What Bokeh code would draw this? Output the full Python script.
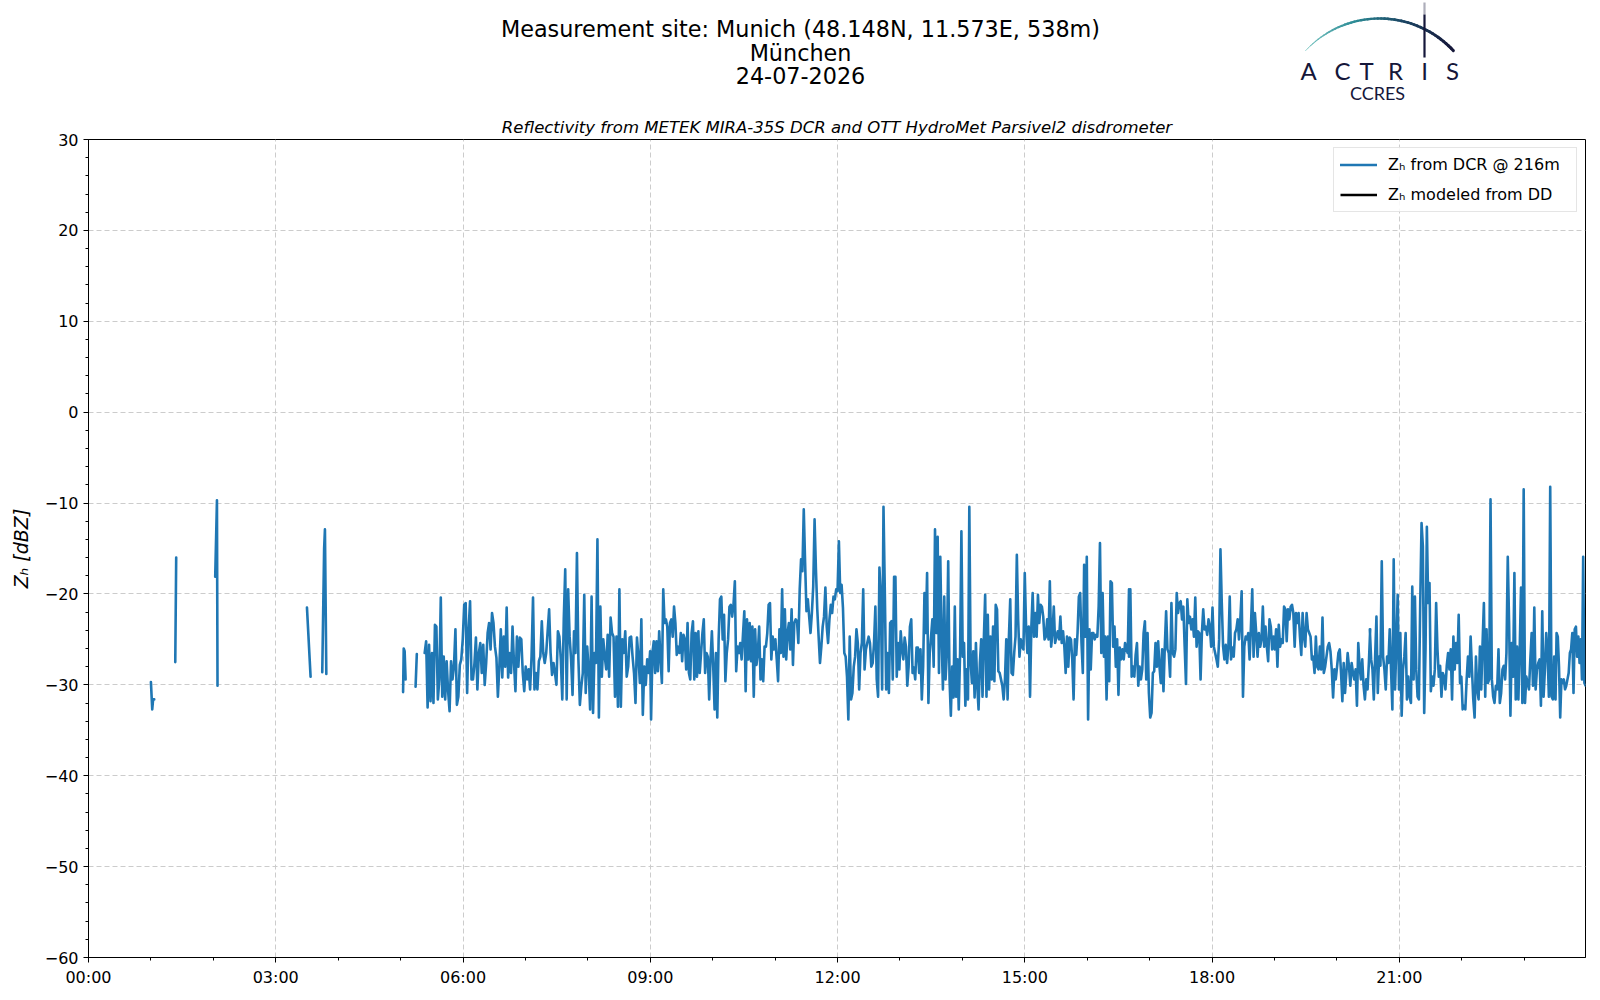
import numpy as np
import pandas as pd
from bokeh.plotting import figure
from bokeh.models import (Range1d, FixedTicker, DatetimeTickFormatter, CustomJSTickFormatter,
                          Legend, LegendItem, Label)
from bokeh.layouts import column
from bokeh.embed import file_html
from bokeh.resources import INLINE

# ---------------- data ----------------
DAY = "2026-07-24"
TITLE_LINES = ["Measurement site: Munich (48.148N, 11.573E, 538m)", "München", "24-07-2026"]
SUBTITLE = "Reflectivity from METEK MIRA-35S DCR and OTT HydroMet Parsivel2 disdrometer"
Y_LABEL = "Zₕ [dBZ]"
DCR_LABEL = "Zₕ from DCR @ 216m"
DD_LABEL = "Zₕ modeled from DD"
y_ticks = [-60, -50, -40, -30, -20, -10, 0, 10, 20, 30]
x_tick_hours = [0, 3, 6, 9, 12, 15, 18, 21]

# isolated echoes before the continuous record (hours of day, dBZ)
early_hours = [
    [1.000, 1.021, 1.035, 1.053],
    [1.390, 1.405],
    [2.030, 2.058, 2.067],
    [3.500, 3.558],
    [3.745, 3.775, 3.788, 3.810],
    [5.040, 5.050, 5.065, 5.080],
    [5.240, 5.260],
]
early_dbz = [
    [-29.7, -32.7, -31.6, -31.6],
    [-27.5, -16.0],
    [-18.1, -9.7, -30.1],
    [-21.5, -29.1],
    [-28.6, -15.0, -12.9, -28.8],
    [-30.8, -26.0, -26.3, -29.4],
    [-30.2, -26.6],
]

# continuous record, regularly sampled blocks: (start hour, end hour)
block_span = [(5.386, 8.998), (9.013, 12.823), (12.843, 16.670),
              (16.670, 20.534), (20.528, 23.503), (23.520, 23.985)]

dcr_block1 = [-26.5, -25.2, -32.5, -25.6, -31.8, -26.5, -32.0, -23.4, -23.6, -31.6, -29.4, -20.4, -31.3, -26.9,
              -31.6, -27.4, -30.7, -32.9, -27.4, -29.4, -28.0, -23.9, -32.2, -31.3, -27.8, -27.2, -25.0, -21.2,
              -21.0, -30.9, -23.9, -20.8, -29.4, -29.4, -27.6, -24.8, -30.5, -26.5, -25.4, -28.7, -25.6, -30.0,
              -27.6, -24.3, -23.2, -26.1, -22.1, -23.2, -25.8, -27.0, -31.3, -28.0, -23.9, -29.2, -24.7, -28.0,
              -21.5, -29.2, -26.5, -28.7, -23.6, -27.6, -30.7, -24.7, -28.0, -24.8, -25.0, -28.7, -30.7, -28.0,
              -29.4, -28.3, -30.5, -26.9, -20.4, -30.5, -28.7, -30.5, -27.4, -26.9, -23.0, -26.5, -27.6, -26.5,
              -24.1, -21.7, -26.5, -28.9, -27.6, -28.7, -30.0, -24.1, -24.7, -27.2, -31.6, -22.8, -17.3, -31.6,
              -19.5, -24.7, -27.2, -31.1, -24.1, -26.5, -15.5, -27.2, -32.2, -30.2, -28.7, -20.1, -30.9, -25.8,
              -28.3, -32.7, -20.3, -33.1, -26.5, -27.6, -14.0, -33.6, -21.4, -29.1, -25.0, -26.9, -28.3, -24.5,
              -29.1, -22.6, -24.3, -24.7, -31.3, -24.7, -32.4, -19.5, -32.4, -25.0, -26.5, -24.1, -29.1, -28.0,
              -24.8, -24.7, -26.9, -28.7, -32.0, -24.8, -26.9, -29.8, -22.8, -33.3, -28.0, -30.0, -27.2, -28.7,
              -26.3]
dcr_block2 = [-33.8, -26.5, -25.2, -28.7, -25.2, -28.5, -24.1, -27.2, -29.8, -19.5, -23.2, -22.8, -23.6, -28.5,
              -23.2, -22.8, -24.7, -21.4, -23.2, -26.7, -25.8, -26.5, -24.3, -27.4, -24.5, -25.0, -28.3, -23.2,
              -28.7, -29.4, -24.3, -23.0, -29.4, -24.3, -29.1, -24.1, -28.7, -26.5, -24.3, -22.8, -28.7, -26.5,
              -26.9, -31.6, -27.2, -24.1, -28.0, -32.7, -26.5, -33.6, -25.0, -20.6, -20.3, -25.0, -22.3, -29.6,
              -26.5, -25.0, -21.4, -21.2, -22.5, -21.2, -18.6, -28.5, -25.8, -26.5, -25.4, -27.2, -24.5, -21.9,
              -30.7, -22.8, -27.2, -23.2, -27.4, -23.6, -31.3, -23.9, -27.8, -26.5, -23.6, -29.4, -27.2, -29.6,
              -25.8, -25.8, -24.3, -21.2, -21.0, -27.2, -24.7, -26.1, -25.0, -27.2, -29.6, -23.9, -26.5, -19.5,
              -26.9, -21.7, -27.2, -24.3, -23.2, -26.1, -21.7, -27.8, -23.2, -22.8, -23.0, -25.4, -19.5, -16.2,
              -17.5, -10.7, -16.6, -21.9, -20.6, -22.5, -24.3, -22.1, -19.2, -11.8, -17.3, -21.7, -24.7, -27.6,
              -25.8, -23.6, -22.5, -19.3, -23.6, -25.4, -22.8, -21.2, -22.1, -20.3, -20.6, -19.5, -19.7, -14.2,
              -19.9, -19.0, -21.5, -26.5, -26.9, -29.1, -33.8, -24.7, -31.6, -30.9, -28.0, -26.9, -23.9, -25.4,
              -30.5, -26.5, -25.4, -19.5, -28.3, -26.1, -25.4, -24.7, -25.4, -28.0, -27.6, -25.4, -21.4, -29.4,
              -31.3, -17.1, -20.3, -30.5, -10.4, -19.9, -30.5, -26.5, -30.9]
dcr_block3 = [-23.2, -23.0, -29.4, -18.1, -18.1, -29.1, -25.4, -28.3, -24.1, -26.1, -27.2, -24.8, -25.8, -30.1,
              -28.0, -23.6, -22.8, -28.7, -28.1, -29.4, -25.9, -25.9, -28.7, -26.1, -31.6, -28.0, -19.9, -24.3,
              -17.7, -32.0, -26.5, -24.7, -22.8, -28.0, -12.9, -24.3, -13.7, -28.7, -15.9, -24.7, -30.5, -20.3,
              -29.4, -26.5, -16.4, -29.4, -33.4, -28.0, -31.4, -21.4, -31.3, -27.2, -32.7, -26.5, -13.1, -26.9,
              -25.4, -32.3, -28.3, -31.6, -10.4, -27.6, -29.8, -26.3, -31.4, -25.4, -30.1, -32.7, -27.6, -25.0,
              -31.3, -25.0, -20.1, -31.3, -22.3, -30.5, -24.7, -29.4, -23.6, -29.6, -21.2, -21.7, -28.5, -28.7,
              -29.4, -30.1, -31.6, -29.4, -25.0, -31.6, -24.7, -20.6, -28.7, -28.9, -26.5, -24.7, -15.7, -22.8,
              -26.9, -25.0, -25.8, -26.1, -17.7, -23.6, -26.5, -23.6, -31.3, -23.6, -19.9, -24.7, -22.1, -24.7,
              -20.1, -23.2, -21.2, -21.4, -22.5, -25.0, -24.7, -22.8, -25.0, -18.6, -25.8, -24.3, -21.4, -25.4,
              -24.7, -24.1, -25.0, -22.5, -25.4, -24.1, -25.8, -28.7, -24.7, -28.0, -24.8, -25.0, -27.2, -31.6,
              -25.0, -26.7, -24.3, -20.3, -19.9, -25.4, -28.7, -16.8, -24.7, -15.9, -33.8, -23.9, -28.3, -24.3,
              -24.3, -25.0, -24.5, -24.7, -21.4, -14.4, -26.5, -19.9, -26.9, -24.7, -31.6, -24.7, -29.6, -18.6,
              -18.8, -25.8, -23.6, -28.0, -25.0, -31.1, -25.9, -27.2, -26.1, -27.2, -25.4, -26.1, -26.5, -19.5]
dcr_block4 = [-26.9, -19.5, -29.1, -28.0, -29.1, -26.7, -25.4, -30.1, -28.0, -29.4, -28.3, -24.3, -23.0, -29.4,
              -24.3, -30.9, -33.6, -33.1, -28.7, -28.5, -25.4, -28.0, -25.2, -28.0, -29.8, -26.1, -30.7, -25.8,
              -21.9, -26.1, -26.5, -29.1, -21.0, -26.5, -26.9, -26.1, -19.9, -22.1, -21.0, -20.8, -22.8, -21.4,
              -25.8, -29.9, -20.6, -23.2, -22.5, -23.9, -22.8, -24.7, -20.4, -25.8, -24.1, -24.3, -29.4, -24.3,
              -21.7, -23.9, -23.6, -24.5, -22.8, -23.6, -25.8, -21.5, -25.8, -26.5, -27.2, -28.0, -25.0, -15.1,
              -21.0, -25.8, -27.2, -25.6, -27.6, -25.8, -20.3, -27.2, -25.9, -26.9, -24.3, -23.9, -22.8, -25.0,
              -22.8, -19.7, -31.3, -25.8, -24.7, -25.0, -24.3, -27.2, -23.6, -19.5, -26.9, -22.1, -24.3, -26.9,
              -24.3, -25.8, -25.0, -21.4, -25.8, -23.6, -25.8, -27.4, -22.8, -23.6, -26.1, -24.7, -26.1, -23.9,
              -28.0, -23.4, -25.8, -25.0, -25.4, -21.4, -21.7, -25.2, -21.7, -22.8, -21.4, -21.2, -22.1, -25.8,
              -22.1, -23.2, -22.1, -24.7, -26.7, -22.1, -24.7, -25.8, -22.1, -23.9, -24.3, -24.7, -27.2, -26.9,
              -28.7, -24.7, -28.0, -28.3, -25.8, -28.3, -22.6, -28.7, -28.0, -26.9, -25.8, -25.4, -26.3, -28.3,
              -31.4, -28.3, -29.4, -28.0, -26.5, -26.1, -28.7, -31.8, -27.6, -30.9, -28.7, -26.5, -28.0, -30.1,
              -27.6, -28.7, -29.4, -28.3, -32.3, -25.4, -28.0, -29.4, -27.2, -30.1, -31.6, -29.4, -30.5, -27.6,
              -23.9]
dcr_block5 = [-23.9, -27.2, -28.3, -31.6, -26.9, -22.5, -30.9, -26.9, -27.9, -16.4, -26.9, -28.3, -30.5, -26.9,
              -27.6, -23.9, -28.3, -32.7, -16.2, -30.5, -25.8, -20.1, -30.5, -24.3, -33.4, -28.3, -26.9, -24.3,
              -31.6, -29.1, -31.3, -32.0, -19.2, -29.4, -20.3, -28.3, -31.3, -31.6, -21.0, -12.2, -14.8, -33.1,
              -26.1, -12.6, -21.0, -18.8, -30.7, -29.1, -30.1, -28.3, -21.0, -26.1, -29.1, -27.9, -31.3, -28.7,
              -29.1, -30.5, -27.9, -26.5, -28.3, -26.1, -31.6, -24.7, -28.3, -25.4, -27.6, -22.3, -29.8, -29.1,
              -32.7, -32.3, -32.7, -29.4, -26.9, -29.1, -24.7, -28.3, -31.6, -33.6, -26.9, -30.5, -31.6, -25.8,
              -30.5, -25.4, -21.0, -31.3, -23.9, -29.8, -29.4, -9.6, -29.4, -31.3, -32.0, -30.1, -30.5, -26.1,
              -32.0, -30.9, -28.3, -27.9, -29.4, -26.5, -15.9, -23.2, -33.4, -25.4, -29.1, -17.7, -31.6, -25.8,
              -31.6, -26.1, -19.3, -32.0, -8.5, -32.0, -29.1, -29.8, -30.5, -27.2, -24.3, -30.1, -21.5, -30.5,
              -28.3, -27.6, -27.2, -32.3, -21.9, -31.3, -28.3, -24.3, -26.5, -31.3, -8.2, -31.3, -31.6, -26.9,
              -31.6]
dcr_block6 = [-24.3, -24.7, -28.0, -33.6, -29.4, -29.8, -29.4, -30.5, -30.1, -29.4, -28.7, -26.5, -26.1, -24.3,
              -30.9, -23.9, -23.6, -26.9, -24.7, -27.6, -25.0, -29.4, -15.9, -29.8, -30.1]

# disdrometer-modelled reflectivity: no valid samples on this day
dd_hours = []
dd_dbz = []

# ---------------- assemble series ----------------
T0 = pd.Timestamp(DAY).value / 1e6  # ms
HOUR_MS = 3.6e6

hours, dbz = [], []
for hh, vv in zip(early_hours, early_dbz):
    hours += list(hh)
    dbz += list(vv)
    hours.append(hh[-1])
    dbz.append(np.nan)
for (h0, h1), vals in zip(block_span, [dcr_block1, dcr_block2, dcr_block3, dcr_block4, dcr_block5, dcr_block6]):
    hours += list(np.linspace(h0, h1, len(vals)))
    dbz += list(vals)

x_ms = T0 + np.asarray(hours) * HOUR_MS
y_db = np.asarray(dbz, dtype=float)

# an all-missing series still needs one (NaN) sample so its legend swatch is drawn
dd_x = T0 + np.asarray(dd_hours if dd_hours else [0.0], dtype=float) * HOUR_MS
dd_y = np.asarray(dd_dbz if dd_dbz else [np.nan], dtype=float)

FONT = "DejaVu Sans"

# ---------------- layout geometry ----------------
W = 1592
HEAD_H = 111
B_LEFT, B_RIGHT = 88, 7          # column() aligns both frames to these borders

# ---------------- header (titles + logo) ----------------
h = figure(width=W, height=HEAD_H, x_range=Range1d(B_LEFT, W - B_RIGHT), y_range=Range1d(HEAD_H, 0),
           output_backend="svg", toolbar_location=None, x_axis_location=None, y_axis_location=None,
           min_border=0, min_border_left=B_LEFT, min_border_right=B_RIGHT, outline_line_color=None)
h.grid.visible = False

for txt, yy in zip(TITLE_LINES, [28.8, 52.2, 75.4]):
    h.add_layout(Label(x=800, y=yy, text=txt, text_align="center", text_baseline="middle",
                       text_font=FONT, text_font_size="22.3px", text_color="black"))

# logo arc with colour gradient
theta = np.radians(np.linspace(-137, -43, 50))
arc_x = 1379 + 101 * np.cos(theta)
arc_y = 119 + 101 * np.sin(theta)
stops = [0.0, 0.35, 0.65, 1.0]
cols = np.array([[125, 200, 196], [45, 140, 150], [28, 70, 100], [22, 24, 58]])
sx, sy, sc, sw = [], [], [], []
n = len(arc_x) - 1
for i in range(n):
    f = i / (n - 1)
    rgb = [int(np.interp(f, stops, cols[:, k])) for k in range(3)]
    sx.append([arc_x[i], arc_x[i + 1]])
    sy.append([arc_y[i], arc_y[i + 1]])
    sc.append("#%02x%02x%02x" % tuple(rgb))
    sw.append(float(np.interp(f, [0, 0.3, 1], [0.8, 2.3, 3.0])))
h.multi_line(xs=sx, ys=sy, line_color=sc, line_width=sw, line_cap="round")
h.segment(x0=[1424], y0=[2], x1=[1424], y1=[14], line_color="#15173a", line_width=2.2, line_alpha=0.35)
h.segment(x0=[1424], y0=[14], x1=[1424], y1=[57], line_color="#15173a", line_width=2.2)
for ch, cx in zip("ACTRIS", [1308, 1342, 1366, 1395, 1424, 1452]):
    h.add_layout(Label(x=cx, y=70, text=ch, text_align="center", text_baseline="middle",
                       text_font="Lato", text_font_size="24px", text_color="#15173a"))
h.add_layout(Label(x=1377, y=92.5, text="CCRES", text_align="center", text_baseline="middle",
                   text_font="Lato", text_font_size="18px", text_color="#15173a"))

# ---------------- main plot ----------------
x_start = T0
x_end = T0 + 24 * HOUR_MS - 60000
p = figure(width=W, height=881, x_axis_type="datetime", output_backend="svg", toolbar_location=None,
           x_range=Range1d(x_start, x_end), y_range=Range1d(-60, 30),
           min_border_left=B_LEFT, min_border_right=B_RIGHT, min_border_top=28, min_border_bottom=35)

p.title.text = SUBTITLE
p.title.align = "center"
p.title.text_font = FONT
p.title.text_font_size = "16.5px"
p.title.text_font_style = "italic"
p.title.text_color = "black"
p.title.standoff = 6

r1 = p.line(x_ms, y_db, line_color="#1f77b4", line_width=2.6, line_join="round", line_cap="round")
r2 = p.line(dd_x, dd_y, line_color="black", line_width=2.6)

p.xaxis.ticker = FixedTicker(ticks=[T0 + hh * HOUR_MS for hh in x_tick_hours],
                             minor_ticks=[T0 + hh * HOUR_MS for hh in range(0, 24)])
p.xaxis.formatter = DatetimeTickFormatter(hours="%H:%M", hourmin="%H:%M", days="%H:%M",
                                          minutes="%H:%M", months="%H:%M", years="%H:%M")
p.yaxis.ticker = FixedTicker(ticks=y_ticks, minor_ticks=list(range(-60, 31, 2)))
p.yaxis.formatter = CustomJSTickFormatter(code="return tick < 0 ? '\u2212' + Math.abs(tick) : '' + tick;")

for ax in p.axis:
    ax.axis_line_color = "black"
    ax.axis_line_width = 1
    ax.major_tick_line_color = "black"
    ax.minor_tick_line_color = "black"
    ax.major_tick_out = 5
    ax.major_tick_in = 0
    ax.minor_tick_out = 3
    ax.minor_tick_in = 0
    ax.major_label_text_font = FONT
    ax.major_label_text_font_size = "16px"
    ax.major_label_text_color = "black"
    ax.major_label_standoff = 5

p.yaxis.axis_label = Y_LABEL
p.yaxis.axis_label_text_font = FONT
p.yaxis.axis_label_text_font_size = "19px"
p.yaxis.axis_label_text_font_style = "italic"
p.yaxis.axis_label_text_color = "black"
p.yaxis.axis_label_standoff = 10

p.outline_line_color = "black"
p.outline_line_width = 1
p.grid.grid_line_color = "#cccccc"
p.grid.grid_line_dash = "5 3"
p.grid.grid_line_width = 1

legend = Legend(items=[LegendItem(label=DCR_LABEL, renderers=[r1]),
                       LegendItem(label=DD_LABEL, renderers=[r2])],
                location="top_right")
legend.label_text_font = FONT
legend.label_text_font_size = "16px"
legend.label_text_color = "black"
legend.glyph_width = 37
legend.glyph_height = 21
legend.label_height = 21
legend.label_width = 182
legend.label_standoff = 11
legend.spacing = 9
legend.padding = 6
legend.margin = 8
legend.border_line_color = "#cccccc"
legend.border_line_width = 1
legend.background_fill_alpha = 0.85
p.add_layout(legend)

layout = column(h, p, spacing=0)
open("out.html", "w").write(file_html(layout, INLINE))
